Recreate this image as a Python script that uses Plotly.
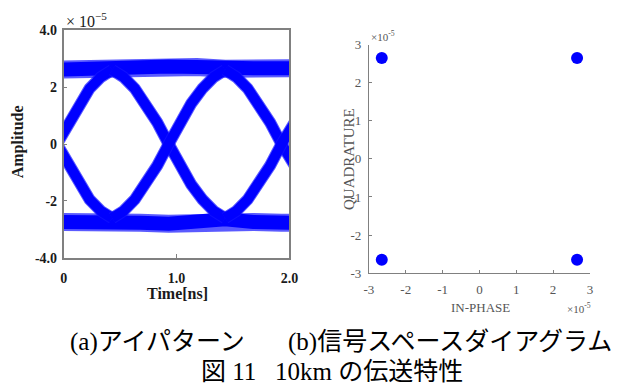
import plotly.graph_objects as go

W, H = 619, 390

# ---- (a) eye pattern, amplitude in units of 1e-5 ----
# one falling edge (the rising edge is its mirror), repeated every bit period
edge_t = [0.43, 0.53, 0.63, 0.73, 0.83, 0.93, 1.03, 1.13, 1.23, 1.33, 1.43]
edge_fall = [2.6, 2.35, 1.95, 1.42, 0.75, 0.0, -0.75, -1.42, -1.95, -2.35, -2.6]
bit_period = 1.0
edge_shifts = [-1, 0, 1]

# steady "1" and "0" levels
rail_t = [0.0, 0.2, 0.43, 0.68, 0.93, 1.18, 1.43, 1.68, 1.93, 2.0]
rail_high = [2.62, 2.66, 2.64, 2.70, 2.72, 2.70, 2.64, 2.66, 2.66, 2.66]
rail_low = [-2.74, -2.74, -2.64, -2.76, -2.80, -2.76, -2.64, -2.74, -2.76, -2.76]

eye_xticks = [0, 1, 2]
eye_xtext = ["0", "1.0", "2.0"]
eye_yticks = [-4, -2, 0, 2, 4]
eye_ytext = ["-4.0", "-2", "0", "2", "4.0"]

# ---- (b) signal space diagram (QPSK), units of 1e-5 ----
iq_i = [-2.65, 2.65, -2.65, 2.65]
iq_q = [2.65, 2.65, -2.65, -2.65]
iq_ticks = [-3, -2, -1, 0, 1, 2, 3]
iq_text = ["-3", "-2", "-1", "0", "1", "2", "3"]

BLUE = "#0000ff"
FRINGE = "rgba(20,20,255,0.7)"
SERIF = "Liberation Serif, Times New Roman, serif"
CAPTION = "Liberation Serif, Noto Sans CJK JP, serif"


def px(x):
    return x / W


def py(y):
    return 1 - y / H


fig = go.Figure()


def band(t, v, core, fringe):
    fig.add_trace(go.Scatter(x=t, y=v, mode="lines", xaxis="x", yaxis="y",
                             line=dict(color=FRINGE, width=fringe),
                             hoverinfo="skip", showlegend=False))
    fig.add_trace(go.Scatter(x=t, y=v, mode="lines", xaxis="x", yaxis="y",
                             line=dict(color=BLUE, width=core),
                             hoverinfo="skip", showlegend=False))


band(rail_t, rail_high, 14, 18)
band(rail_t, rail_low, 14, 18)
for s in edge_shifts:
    tt = [t + s * bit_period for t in edge_t]
    band(tt, edge_fall, 10, 12)
    band(tt, [-v for v in edge_fall], 10, 12)

fig.add_trace(go.Scatter(x=iq_i, y=iq_q, mode="markers", xaxis="x2", yaxis="y2",
                         marker=dict(color=BLUE, size=12, line=dict(width=0)),
                         hoverinfo="skip", showlegend=False))

eye_tickfont = dict(family=SERIF, size=14, color="#1a1a1a", weight="bold")
iq_tickfont = dict(family=SERIF, size=13, color="#555555")

fig.update_layout(
    width=W, height=H,
    margin=dict(l=0, r=0, t=0, b=0),
    paper_bgcolor="white", plot_bgcolor="white",
    xaxis=dict(domain=[px(60), px(291)], range=[0, 2],
               tickvals=eye_xticks, ticktext=eye_xtext,
               ticks="inside", ticklen=4, tickcolor="#808080",
               showline=True, linecolor="#808080", linewidth=1.5, mirror=True,
               showgrid=False, zeroline=False, tickfont=eye_tickfont,
               ticklabelstandoff=6, anchor="y"),
    yaxis=dict(domain=[py(261), py(24)], range=[-4, 4],
               tickvals=eye_yticks, ticktext=eye_ytext,
               ticks="inside", ticklen=4, tickcolor="#808080",
               showline=True, linecolor="#808080", linewidth=1.5, mirror=True,
               showgrid=False, zeroline=False, tickfont=eye_tickfont,
               ticklabelstandoff=2, anchor="x"),
    xaxis2=dict(domain=[px(372.3), px(598.5)], range=[-3, 3],
                tickvals=iq_ticks, ticktext=iq_text,
                ticks="inside", ticklen=3, tickcolor="#808080",
                showline=True, linecolor="#808080", linewidth=1,
                showgrid=False, zeroline=False, tickfont=iq_tickfont,
                ticklabelstandoff=4, anchor="y2"),
    yaxis2=dict(domain=[py(276.7), py(39.3)], range=[-3, 3],
                tickvals=iq_ticks, ticktext=iq_text,
                ticks="inside", ticklen=3, tickcolor="#808080",
                showline=True, linecolor="#808080", linewidth=1,
                showgrid=False, zeroline=False, tickfont=iq_tickfont,
                ticklabelstandoff=4, anchor="x2"),
)


def label(text, x, y, size, color="#1a1a1a", family=SERIF, weight="normal",
          xanchor="center", angle=0):
    fig.add_annotation(text=text, x=px(x), y=py(y), xref="paper", yref="paper",
                       showarrow=False, xanchor=xanchor, yanchor="middle",
                       textangle=angle,
                       font=dict(family=family, size=size, color=color, weight=weight))


# eye pattern titles
label("× 10<sup>−5</sup>", 60, 14, 16, xanchor="left")
label("Amplitude", 13, 140, 16, weight="bold", angle=-90)
label("Time[ns]", 177, 298, 16, weight="bold")

# signal space titles
label("×10<sup>-5</sup>", 372, 30, 11, color="#555555", xanchor="left")
label("×10<sup>-5</sup>", 573, 313, 11, color="#555555", xanchor="left")
label("QUADRATURE", 352, 158, 15, color="#555555", angle=-90)
label("IN-PHASE", 486, 312, 13, color="#555555")

# captions
label("(a)アイパターン", 64, 348, 25, color="#000000", family=CAPTION, xanchor="left")
label("(b)信号スペースダイアグラム", 288, 348, 25, color="#000000", family=CAPTION,
      xanchor="left")
label("図 11\u00a0\u00a0\u00a010km の伝送特性", 335, 379, 25, color="#000000",
      family=CAPTION)

fig.write_html("out.html")
